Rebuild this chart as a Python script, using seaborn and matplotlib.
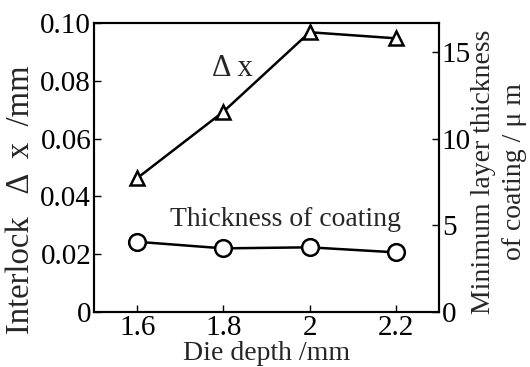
import matplotlib
matplotlib.use("Agg")
import matplotlib.pyplot as plt
import seaborn as sns
import pandas as pd

die_depth = [1.6, 1.8, 2.0, 2.2]
interlock_dx = [0.0463, 0.0693, 0.0968, 0.0947]
coating_thickness = [4.05, 3.67, 3.73, 3.44]

left_ticks = [0, 0.02, 0.04, 0.06, 0.08, 0.10]
left_ticklabels = ["0", "0.02", "0.04", "0.06", "0.08", "0.10"]
right_ticks = [0, 5, 10, 15]
x_ticks = [1.6, 1.8, 2.0, 2.2]
x_ticklabels = ["1.6", "1.8", "2", "2.2"]

sns.set_style("ticks")
plt.rcParams["font.family"] = ["Liberation Serif", "DejaVu Serif"]

df = pd.DataFrame({"depth": die_depth, "dx": interlock_dx, "thk": coating_thickness})

fig = plt.figure(figsize=(5.3, 3.67), dpi=100)
ax = fig.add_axes([94/530, 1-312/367, (439-94)/530, (312-23)/367])
ax2 = ax.twinx()

sns.lineplot(data=df, x="depth", y="dx", ax=ax, color="black", linewidth=1.8,
             marker="^", markersize=10, markerfacecolor="white",
             markeredgecolor="black", markeredgewidth=1.8, clip_on=False)
sns.lineplot(data=df, x="depth", y="thk", ax=ax2, color="black", linewidth=1.8,
             marker="o", markersize=12, markerfacecolor="white",
             markeredgecolor="black", markeredgewidth=1.8, clip_on=False)

ax.set_xlim(1.5, 2.3)
ax.set_ylim(0, 0.1)
ax2.set_ylim(0, 100/6)

ax.set_xticks(x_ticks)
ax.set_xticklabels(x_ticklabels)
ax.set_yticks(left_ticks)
ax.set_yticklabels(left_ticklabels)
ax2.set_yticks(right_ticks)

for a in (ax, ax2):
    a.tick_params(direction="in", length=5, width=1, labelsize=21, pad=2, colors="black")
    for s in a.spines.values():
        s.set_linewidth(1.5)
        s.set_color("black")

ax.set_xlabel("Die depth /mm", fontsize=20)
ax.xaxis.label.set_verticalalignment("center")
ax.xaxis.set_label_coords(0.5, (312-353)/289)

ax.set_ylabel("Interlock   Δ  x  /mm", fontsize=23.5)
ax.yaxis.label.set_verticalalignment("center")
ax.yaxis.set_label_coords((21-94)/345, 0.5 - (200-167.5)/289)

ax2.set_ylabel("Minimum layer thickness\nof coating / μ m", fontsize=20, linespacing=1.35)
ax2.yaxis.label.set_verticalalignment("center")
ax2.yaxis.set_label_coords((499-94)/345, 0.5 - (172-167.5)/289)

ax.annotate("Thickness of coating", xy=(285/530, 1-219/367), xycoords="figure fraction",
            fontsize=20, ha="center", va="center")
ax.annotate("Δ x", xy=(232/530, 1-68/367), xycoords="figure fraction",
            fontsize=22, ha="center", va="center")

fig.savefig("out.png", dpi=100)
